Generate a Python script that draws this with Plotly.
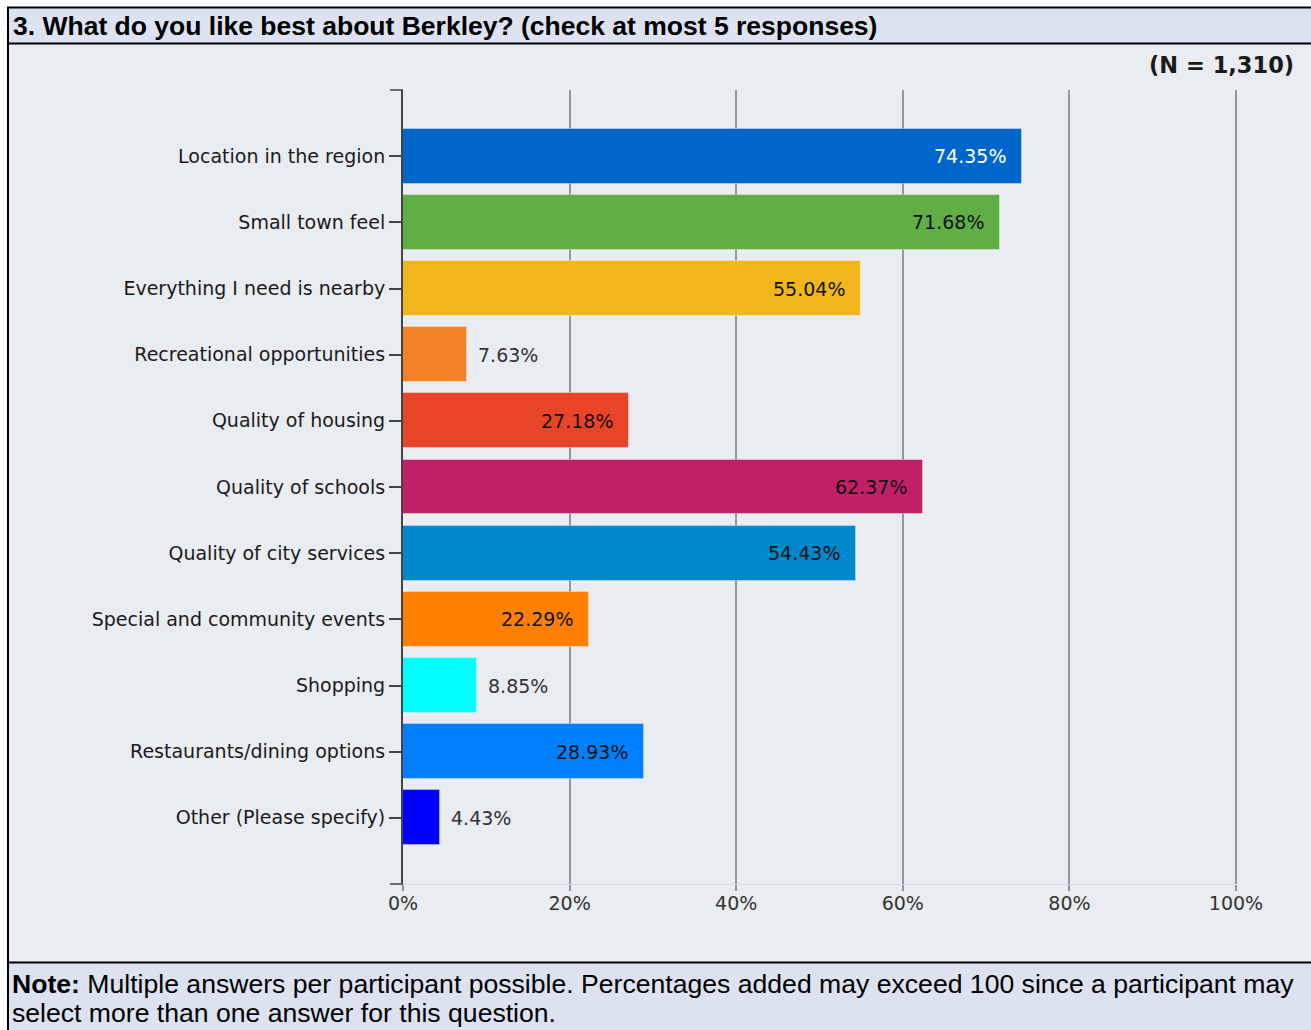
import plotly.graph_objects as go

# Survey question 3 results (share of respondents, %)
categories = [
    "Location in the region",
    "Small town feel",
    "Everything I need is nearby",
    "Recreational opportunities",
    "Quality of housing",
    "Quality of schools",
    "Quality of city services",
    "Special and community events",
    "Shopping",
    "Restaurants/dining options",
    "Other (Please specify)",
]
values = [74.35, 71.68, 55.04, 7.63, 27.18, 62.37, 54.43, 22.29, 8.85, 28.93, 4.43]
bar_colors = [
    "#0066CC", "#62AE46", "#F2B61D", "#F58025", "#E84427", "#C02066",
    "#0088CC", "#FF7F00", "#00FFFF", "#0080FF", "#0000FF",
]
label_inside = [True, True, True, False, True, True, True, True, False, True, False]
label_colors = ["#FFFFFF", "#111111", "#111111", "#333333", "#111111", "#111111",
                "#111111", "#111111", "#333333", "#111111", "#333333"]
x_ticks = [0, 20, 40, 60, 80, 100]
x_tick_labels = ["0%", "20%", "40%", "60%", "80%", "100%"]

title_text = "3. What do you like best about Berkley? (check at most 5 responses)"
n_text = "(N = 1,310)"
note_line1 = "<b>Note:</b> Multiple answers per participant possible. Percentages added may exceed 100 since a participant may"
note_line2 = "select more than one answer for this question."

W, H = 1311, 1030
L, R, T, B = 403, 1236, 90, 884  # plot area in pixels

def px(x):
    return (x - L) / (R - L)

def py(y):
    return (B - y) / (B - T)

ypos = list(range(len(categories)))
label_font = "DejaVu Sans, Verdana, sans-serif"
head_font = "Liberation Sans, Arial, sans-serif"
grid_color = "#8A99A4"

fig = go.Figure()
fig.add_trace(go.Bar(
    x=values,
    y=ypos,
    orientation="h",
    width=0.83,
    marker=dict(color=bar_colors, line=dict(color="rgba(255,255,255,0.35)", width=1)),
    hoverinfo="skip",
))

annotations = []
for v, yi, inside, col in zip(values, ypos, label_inside, label_colors):
    annotations.append(dict(
        x=v, y=yi, xref="x", yref="y",
        text=f"{v:.2f}%",
        showarrow=False,
        xanchor="right" if inside else "left",
        xshift=-14 if inside else 9,
        font=dict(family=label_font, size=19, color=col),
    ))

# header, N label and note
annotations.append(dict(
    x=px(11), y=py(26), xref="paper", yref="paper", text=f"<b>{title_text}</b>",
    showarrow=False, xanchor="left", yanchor="middle",
    font=dict(family=head_font, size=26.5, color="#000000"),
))
annotations.append(dict(
    x=px(1296), y=py(65), xref="paper", yref="paper", text=f"<b>{n_text}</b>",
    showarrow=False, xanchor="right", yanchor="middle",
    font=dict(family="DejaVu Sans, Verdana, sans-serif", size=22.5, color="#1a1a1a"),
))
for txt, yy in [(note_line1, 984), (note_line2, 1013)]:
    annotations.append(dict(
        x=px(10), y=py(yy), xref="paper", yref="paper", text=txt,
        showarrow=False, xanchor="left", yanchor="middle",
        font=dict(family=head_font, size=26.6, color="#000000"),
    ))

band = "#DCE2F0"
chart_bg = "#E9ECF0"
shapes = [
    dict(type="rect", xref="paper", yref="paper", x0=px(8), x1=px(1311), y0=py(44), y1=py(962),
         fillcolor=chart_bg, line=dict(width=0), layer="below"),
    dict(type="rect", xref="paper", yref="paper", x0=px(8), x1=px(1311), y0=py(8), y1=py(44),
         fillcolor=band, line=dict(width=0), layer="below"),
    dict(type="rect", xref="paper", yref="paper", x0=px(8), x1=px(1311), y0=py(963), y1=py(1030),
         fillcolor=band, line=dict(width=0), layer="below"),
    # gridline on the right edge of the value axis (not clipped by the plot area)
    dict(type="line", xref="paper", yref="paper", x0=1, x1=1, y0=0, y1=1,
         line=dict(color=grid_color, width=2), layer="below"),
    # frame lines
    dict(type="line", xref="paper", yref="paper", x0=px(7), x1=px(1311), y0=py(7.5), y1=py(7.5),
         line=dict(color="#000000", width=2)),
    dict(type="line", xref="paper", yref="paper", x0=px(7), x1=px(1311), y0=py(43.5), y1=py(43.5),
         line=dict(color="#000000", width=2)),
    dict(type="line", xref="paper", yref="paper", x0=px(7), x1=px(1311), y0=py(962.5), y1=py(962.5),
         line=dict(color="#000000", width=2)),
    dict(type="line", xref="paper", yref="paper", x0=px(8), x1=px(8), y0=py(7), y1=py(1030),
         line=dict(color="#000000", width=2)),
    # end caps of the category axis
    dict(type="line", xref="paper", yref="paper", x0=px(390), x1=px(403), y0=1, y1=1,
         line=dict(color="#444444", width=1.5)),
    dict(type="line", xref="paper", yref="paper", x0=px(390), x1=px(403), y0=0, y1=0,
         line=dict(color="#444444", width=1.5)),
]

fig.update_layout(
    width=W, height=H,
    margin=dict(l=L, r=W - R, t=T, b=H - B, pad=0),
    paper_bgcolor="#FFFFFF",
    plot_bgcolor="rgba(0,0,0,0)",
    showlegend=False,
    bargap=0,
    annotations=annotations,
    shapes=shapes,
    xaxis=dict(
        range=[0, 100], tickvals=x_ticks, ticktext=x_tick_labels,
        showgrid=True, gridcolor=grid_color, gridwidth=2,
        zeroline=False,
        showline=True, linecolor="#D6DCE4", linewidth=1,
        ticks="outside", ticklen=6, tickwidth=2, tickcolor=grid_color,
        ticklabelstandoff=-4,
        tickfont=dict(family=label_font, size=19, color="#333333"),
        fixedrange=True,
    ),
    yaxis=dict(
        range=[11, -1], tickvals=ypos, ticktext=categories,
        showgrid=False, zeroline=False,
        showline=True, linecolor="#444444", linewidth=2,
        ticks="outside", ticklen=12, tickwidth=1.5, tickcolor="#444444",
        tickfont=dict(family=label_font, size=19, color="#1a1a1a"),
        fixedrange=True,
    ),
)

fig.write_html("out.html")
